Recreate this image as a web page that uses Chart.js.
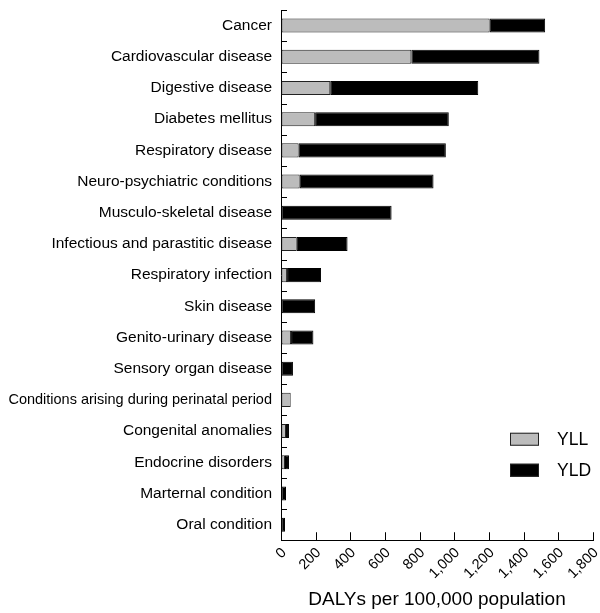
<!DOCTYPE html>
<html>
<head>
<meta charset="utf-8">
<script src="https://cdn.jsdelivr.net/npm/chart.js@4/dist/chart.umd.min.js"></script>
<style>
	html, body { margin: 0; padding: 0; background: #fff; }
	#wrap { width: 600px; height: 613px; }
</style>
</head>
<body>
<div id="wrap"><canvas id="chart"></canvas></div>
<script>
	'use strict';

	var categories = [
		'Cancer', 'Cardiovascular disease', 'Digestive disease', 'Diabetes mellitus',
		'Respiratory disease', 'Neuro-psychiatric conditions', 'Musculo-skeletal disease',
		'Infectious and parastitic disease', 'Respiratory infection', 'Skin disease',
		'Genito-urinary disease', 'Sensory organ disease', 'Conditions arising during perinatal period',
		'Congenital anomalies', 'Endocrine disorders', 'Marternal condition', 'Oral condition'
	];
	var yllValues = [1204, 752, 284, 197, 102, 108, 0, 91, 35, 0, 58, 0, 56, 29, 23, 0, 0];
	var yldValues = [320, 739, 854, 771, 849, 772, 638, 293, 196, 197, 129, 69, 0, 17, 23, 29, 23];
	var xTicks = [0, 200, 400, 600, 800, 1000, 1200, 1400, 1600, 1800];

	var fontFamily = '"Liberation Sans", Arial, sans-serif';

	// short tick marks drawn on the inner side of both axes
	var innerTicks = {
		id: 'innerTicks',
		afterDatasetsDraw: function (chart) {
			var ctx = chart.ctx,
				x = chart.scales.x,
				y = chart.scales.y,
				area = chart.chartArea;

			ctx.save();
			ctx.strokeStyle = '#000';
			ctx.lineWidth = 1;
			ctx.beginPath();
			xTicks.forEach(function (v) {
				var px = Math.round(x.getPixelForValue(v)) + 0.5;
				ctx.moveTo(px, area.bottom);
				ctx.lineTo(px, area.bottom - 8);
			});
			for (var i = 0; i <= categories.length; i++) {
				var py = Math.round(y.getPixelForValue(i - 0.5)) + 0.5;
				ctx.moveTo(area.left, py);
				ctx.lineTo(area.left + 6, py);
			}
			ctx.stroke();
			ctx.restore();
		}
	};

	// legend sits inside the plot, lower right
	var insideLegend = {
		id: 'insideLegend',
		afterDraw: function (chart) {
			var ctx = chart.ctx,
				area = chart.chartArea,
				boxX = area.right - 83,
				rowY = area.bottom - 101;

			ctx.save();
			chart.data.datasets.forEach(function (ds, i) {
				var cy = rowY + i * 31;
				ctx.fillStyle = ds.backgroundColor;
				ctx.fillRect(boxX, cy - 6.5, 29, 13);
				ctx.strokeStyle = '#222';
				ctx.lineWidth = 1;
				ctx.strokeRect(boxX + 0.5, cy - 6, 28, 12);
				ctx.fillStyle = '#000';
				ctx.font = '17.5px ' + fontFamily;
				ctx.textBaseline = 'middle';
				ctx.textAlign = 'left';
				ctx.fillText(ds.label, boxX + 47, cy + 1);
			});
			ctx.restore();
		}
	};

	new Chart(document.getElementById('chart'), {
		type: 'bar',
		data: {
			labels: categories,
			datasets: [{
				label: 'YLL',
				data: yllValues,
				backgroundColor: '#bcbcbc',
				borderColor: '#222',
				borderWidth: 1,
				borderSkipped: false,
				categoryPercentage: 1,
				barPercentage: 0.45
			}, {
				label: 'YLD',
				data: yldValues,
				backgroundColor: '#000',
				borderColor: '#000',
				borderWidth: 1,
				borderSkipped: false,
				categoryPercentage: 1,
				barPercentage: 0.45
			}]
		},
		options: {
			indexAxis: 'y',
			responsive: true,
			maintainAspectRatio: false,
			animation: false,
			layout: { padding: { left: 6, right: 7, top: 10, bottom: 2 } },
			plugins: {
				legend: { display: false },
				tooltip: { enabled: false }
			},
			scales: {
				x: {
					stacked: true,
					min: 0,
					max: 1800,
					afterBuildTicks: function (scale) {
						scale.ticks = xTicks.map(function (v) { return { value: v }; });
					},
					afterFit: function (scale) {
						scale.paddingLeft = 0;
						scale.paddingRight = 0;
					},
					grid: { drawOnChartArea: false, drawTicks: false },
					border: { display: true, color: '#000', width: 1 },
					ticks: {
						color: '#000',
						font: { family: fontFamily, size: 14.5 },
						minRotation: 45,
						maxRotation: 45,
						padding: 4,
						labelOffset: 3,
						autoSkip: false
					},
					title: {
						display: true,
						text: 'DALYs per 100,000 population',
						color: '#000',
						font: { family: fontFamily, size: 19 },
						padding: { top: 2, bottom: 0 }
					}
				},
				y: {
					stacked: true,
					afterFit: function (scale) {
						scale.width = 275;
						scale.paddingTop = 0;
						scale.paddingBottom = 0;
					},
					grid: { drawOnChartArea: false, drawTicks: false },
					border: { display: true, color: '#000', width: 1 },
					ticks: {
						color: '#000',
						// the long perinatal label is squeezed in the original
						font: function (c) {
							var label = categories[c.index] || '';
							return { family: fontFamily, size: label.length > 40 ? 14.5 : 15.5 };
						},
						padding: 9,
						autoSkip: false
					}
				}
			}
		},
		plugins: [innerTicks, insideLegend]
	});
</script>
</body>
</html>
